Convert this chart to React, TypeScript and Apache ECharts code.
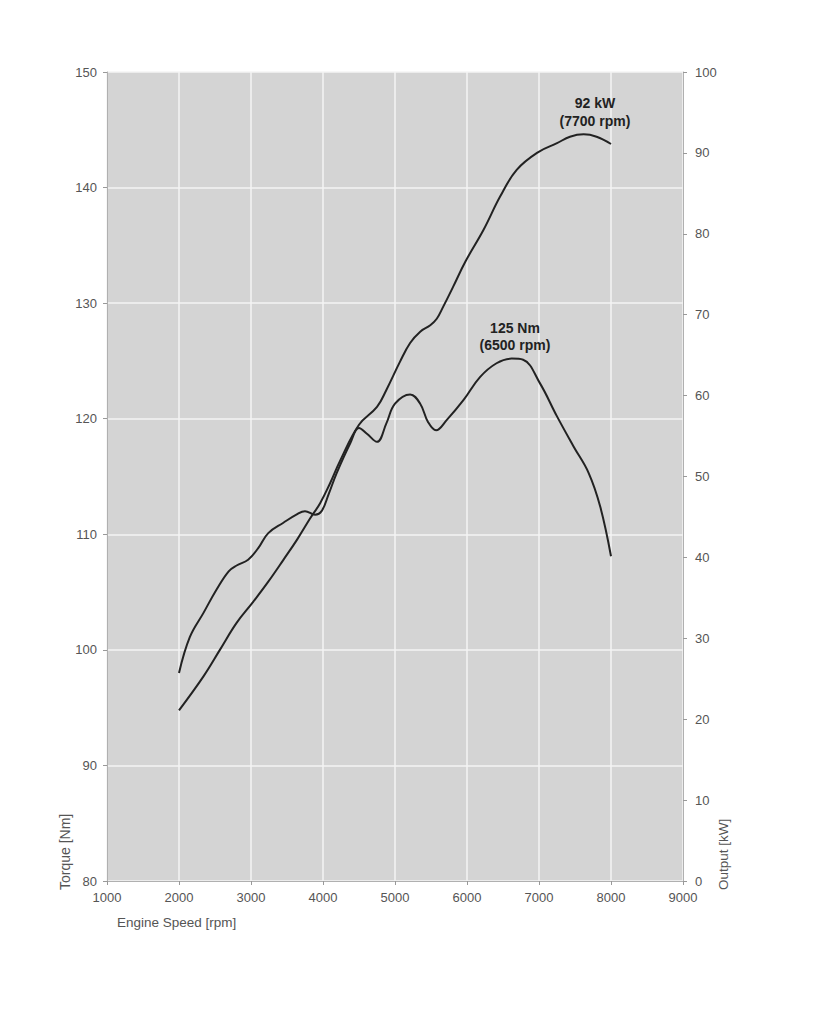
import React, { useEffect, useRef } from "react";
import * as echarts from "echarts";

const torqueRpm = [2000, 2150, 2340, 2520, 2690, 2800, 2960, 3100, 3240, 3450, 3630, 3750, 3890, 3980, 4080, 4190, 4380, 4500, 4610, 4750, 4880, 5000, 5210, 5350, 5460, 5570, 5720, 5950, 6180, 6410, 6620, 6780, 7010, 7250, 7480, 7690, 7850, 8000];
const torqueNm = [98.0, 101.1, 103.2, 105.2, 106.8, 107.3, 107.8, 108.8, 110.1, 111.0, 111.7, 112.0, 111.7, 112.0, 113.5, 115.3, 117.9, 119.2, 118.7, 118.0, 119.6, 121.3, 122.1, 121.3, 119.7, 119.0, 119.9, 121.6, 123.6, 124.8, 125.2, 125.1, 123.1, 120.2, 117.6, 115.3, 112.4, 108.1];

const powerRpm = [2000, 2340, 2570, 2800, 3030, 3240, 3450, 3640, 3820, 3960, 4100, 4240, 4500, 4750, 4880, 5070, 5210, 5350, 5490, 5580, 5670, 5810, 5980, 6230, 6460, 6690, 6990, 7250, 7430, 7620, 7800, 8000];
const powerKw = [21.1, 25.3, 28.6, 31.9, 34.5, 37.0, 39.7, 42.2, 44.8, 46.7, 49.2, 52.0, 56.4, 58.6, 60.7, 64.2, 66.5, 67.9, 68.7, 69.5, 71.0, 73.5, 76.6, 80.5, 84.6, 87.9, 90.1, 91.2, 92.0, 92.3, 92.0, 91.1];

const torqueLabel = ["125 Nm", "(6500 rpm)"];
const powerLabel = ["92 kW", "(7700 rpm)"];

export default function App() {
  const ref = useRef<HTMLDivElement>(null);
  useEffect(() => {
    if (!ref.current) return;
    const chart = echarts.init(ref.current, null, { renderer: "svg" });
    const font = "Liberation Sans, Arial, Helvetica, sans-serif";
    const axisLabel = { color: "#555", fontSize: 13, fontFamily: font, formatter: (v: number) => String(v) };
    const annot = (x: number, y: number, text: string) => ({
      type: "text",
      x,
      y,
      z: 100,
      style: {
        text,
        fill: "#222",
        font: `bold 14px ${font}`,
        align: "center",
        verticalAlign: "middle",
      },
    });
    chart.setOption({
      animation: false,
      backgroundColor: "#ffffff",
      grid: {
        left: 107,
        right: 140,
        top: 72,
        bottom: 143,
        show: true,
        backgroundColor: "#d4d4d4",
        borderWidth: 0,
      },
      xAxis: {
        type: "value",
        min: 1000,
        max: 9000,
        interval: 1000,
        axisLine: { show: true, lineStyle: { color: "#b0b0b0", width: 1 } },
        axisTick: { show: true, length: 4, lineStyle: { color: "#999" } },
        axisLabel: { ...axisLabel, margin: 10 },
        splitLine: { show: true, lineStyle: { color: "#f4f4f4", width: 1.5 } },
      },
      yAxis: [
        {
          type: "value",
          min: 80,
          max: 150,
          interval: 10,
          axisLine: { show: true, lineStyle: { color: "#b0b0b0", width: 1 } },
          axisTick: { show: true, length: 4, lineStyle: { color: "#999" } },
          axisLabel: { ...axisLabel, margin: 10 },
          splitLine: { show: true, lineStyle: { color: "#f4f4f4", width: 1.5 } },
        },
        {
          type: "value",
          min: 0,
          max: 100,
          interval: 10,
          position: "right",
          axisLine: { show: true, lineStyle: { color: "#b0b0b0", width: 1 } },
          axisTick: { show: true, length: 4, lineStyle: { color: "#999" } },
          axisLabel: { ...axisLabel, margin: 12 },
          splitLine: { show: false },
        },
      ],
      series: [
        {
          name: "Torque",
          type: "line",
          yAxisIndex: 0,
          smooth: 0.4,
          showSymbol: false,
          lineStyle: { color: "#222", width: 2 },
          data: torqueRpm.map((r, i) => [r, torqueNm[i]]),
        },
        {
          name: "Output",
          type: "line",
          yAxisIndex: 1,
          smooth: 0.4,
          showSymbol: false,
          lineStyle: { color: "#222", width: 2 },
          data: powerRpm.map((r, i) => [r, powerKw[i]]),
        },
      ],
      graphic: [
        annot(595, 103, powerLabel[0]),
        annot(595, 121, powerLabel[1]),
        annot(515, 328, torqueLabel[0]),
        annot(515, 345, torqueLabel[1]),
        {
          type: "text",
          x: 65,
          y: 890,
          z: 100,
          rotation: Math.PI / 2,
          style: {
            text: "Torque [Nm]",
            fill: "#555",
            font: `14px ${font}`,
            align: "left",
            verticalAlign: "middle",
          },
        },
        {
          type: "text",
          x: 117,
          y: 922,
          z: 100,
          style: {
            text: "Engine Speed [rpm]",
            fill: "#555",
            font: `13.5px ${font}`,
            align: "left",
            verticalAlign: "middle",
          },
        },
        {
          type: "text",
          x: 723,
          y: 890,
          z: 100,
          rotation: Math.PI / 2,
          style: {
            text: "Output [kW]",
            fill: "#555",
            font: `13.5px ${font}`,
            align: "left",
            verticalAlign: "middle",
          },
        },
      ],
    });
    return () => chart.dispose();
  }, []);
  return (
    <div
      ref={ref}
      style={{ position: "absolute", left: 0, top: 0, width: 823, height: 1024 }}
    />
  );
}
